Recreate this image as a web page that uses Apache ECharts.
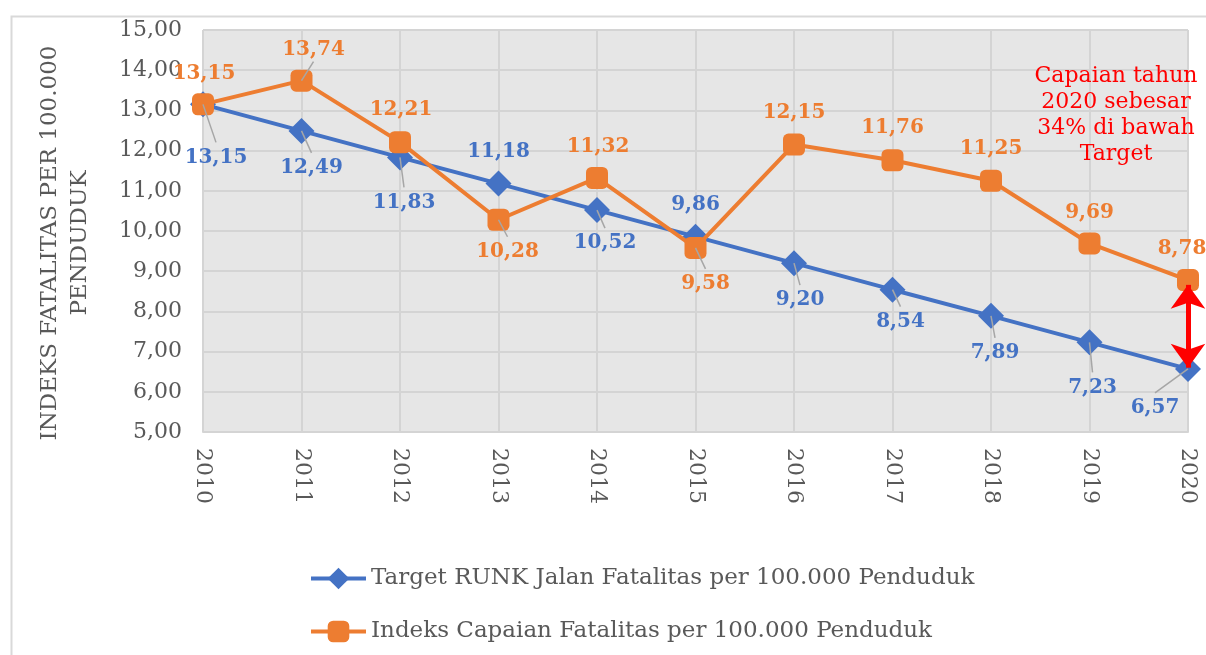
<!DOCTYPE html>
<html>
<head>
<meta charset="utf-8">
<script src="https://cdn.jsdelivr.net/npm/echarts@6/dist/echarts.min.js"></script>
<style>html,body{margin:0;padding:0;background:#fff;}#c{width:1206px;height:655px;}</style>
</head>
<body>
<div id="c"></div>
<script>
const years = ['2010','2011','2012','2013','2014','2015','2016','2017','2018','2019','2020'];
const targetValues = [13.15, 12.49, 11.83, 11.18, 10.52, 9.86, 9.20, 8.54, 7.89, 7.23, 6.57];
const capaianValues = [13.15, 13.74, 12.21, 10.28, 11.32, 9.58, 12.15, 11.76, 11.25, 9.69, 8.78];
const yTicks = {min: 5, max: 15, interval: 1};
const targetName = 'Target RUNK Jalan Fatalitas per 100.000 Penduduk';
const capaianName = 'Indeks Capaian Fatalitas per 100.000 Penduduk';
const noteText = 'Capaian tahun\n2020 sebesar\n34% di bawah\nTarget';

// label offsets and leader flags (style only)
const targetLabelOff = [[13,53],[10,37],[4,45],[0,-32],[8,33],[0,-32],[6,37],[8,32],[4,37],[3,45],[-33,39]];
const capaianLabelOff = [[1,-31],[12,-31],[1,-32],[9,32],[1,-31],[10,36],[0,-32],[0,-32],[0,-32],[0,-31],[-6,-31]];
const targetLeader = [1,1,1,0,1,0,1,1,1,1,1];
const capaianLeader = [0,1,0,1,0,1,0,0,0,0,0];

const FONT = 'DejaVu Serif';
const fmt = v => v.toFixed(2).replace('.', ',');

function leaderSeries(values, offs, flags) {
  return {
    type: 'custom', silent: true, z: 5,
    data: values.map((v, i) => [i, v]),
    renderItem: (params, api) => {
      const i = params.dataIndex;
      if (!flags[i]) return null;
      const p = api.coord([api.value(0), api.value(1)]);
      const o = offs[i];
      const ey = o[1] > 0 ? p[1] + o[1] - 15 : p[1] + o[1] + 12;
      return {type: 'line', shape: {x1: p[0], y1: p[1], x2: p[0] + o[0], y2: ey},
              style: {stroke: '#a6a6a6', lineWidth: 1.5}};
    }
  };
}

const chart = echarts.init(document.getElementById('c'));
chart.setOption({
  animation: false,
  backgroundColor: '#fff',
  textStyle: {fontFamily: FONT},
  grid: {left: 203, right: 18, top: 30, bottom: 223, show: true, backgroundColor: '#e6e6e6', borderWidth: 0},
  xAxis: {
    type: 'category', data: years, boundaryGap: false,
    axisLine: {show: true, lineStyle: {color: '#d4d4d4', width: 2}},
    axisTick: {show: false},
    splitLine: {show: true, lineStyle: {color: '#d4d4d4', width: 2}},
    axisLabel: {rotate: -90, margin: 16, fontSize: 22, color: '#595959', fontFamily: FONT}
  },
  yAxis: {
    type: 'value', min: yTicks.min, max: yTicks.max, interval: yTicks.interval,
    name: 'INDEKS FATALITAS PER 100.000\nPENDUDUK', nameLocation: 'middle', nameGap: 108,
    nameTextStyle: {fontSize: 23, color: '#595959', fontFamily: FONT, lineHeight: 30, padding: [0, 24, 0, 0]},
    axisLine: {show: false}, axisTick: {show: false},
    splitLine: {show: true, lineStyle: {color: '#d4d4d4', width: 2}},
    axisLabel: {margin: 21, fontSize: 22, color: '#595959', fontFamily: FONT, formatter: fmt}
  },
  legend: {
    orient: 'vertical', left: 304, top: 562, itemGap: 30, itemWidth: 55, itemHeight: 27,
    lineStyle: {width: 4},
    textStyle: {fontSize: 23, color: '#595959', fontFamily: FONT},
    data: [targetName, capaianName]
  },
  series: [
    {
      name: targetName, type: 'line', data: targetValues,
      symbol: 'diamond', symbolSize: 26,
      lineStyle: {color: '#4472c4', width: 4}, itemStyle: {color: '#4472c4'},
      label: {show: true, position: 'inside', color: '#4472c4', fontWeight: 'bold', fontSize: 20, fontFamily: FONT, formatter: p => fmt(p.value)},
      labelLayout: p => ({dx: targetLabelOff[p.dataIndex][0], dy: targetLabelOff[p.dataIndex][1]}),
      z: 2
    },
    {
      name: capaianName, type: 'line', data: capaianValues,
      symbol: 'roundRect', symbolSize: 22,
      lineStyle: {color: '#ed7d31', width: 4}, itemStyle: {color: '#ed7d31'},
      label: {show: true, position: 'inside', color: '#ed7d31', fontWeight: 'bold', fontSize: 20, fontFamily: FONT, formatter: p => fmt(p.value)},
      labelLayout: p => ({dx: capaianLabelOff[p.dataIndex][0], dy: capaianLabelOff[p.dataIndex][1]}),
      markLine: {
        silent: true, symbol: ['arrow', 'arrow'], symbolSize: [26, 24],
        lineStyle: {color: '#ff0000', width: 5, type: 'solid'},
        label: {show: false},
        data: [[{coord: ['2020', 8.66]}, {coord: ['2020', 6.6]}]]
      },
      z: 3
    },
    leaderSeries(targetValues, targetLabelOff, targetLeader),
    leaderSeries(capaianValues, capaianLabelOff, capaianLeader)
  ],
  graphic: [
    {type: 'rect', left: 9, top: 14, shape: {width: 1220, height: 670}, style: {fill: 'none', stroke: '#d9d9d9', lineWidth: 2}, silent: true},
    {type: 'text', x: 1116, y: 63, style: {text: noteText, fill: '#ff0000', font: '22px "DejaVu Serif"', align: 'center', verticalAlign: 'top', lineHeight: 26}, z: 10}
  ]
});
</script>
</body>
</html>
